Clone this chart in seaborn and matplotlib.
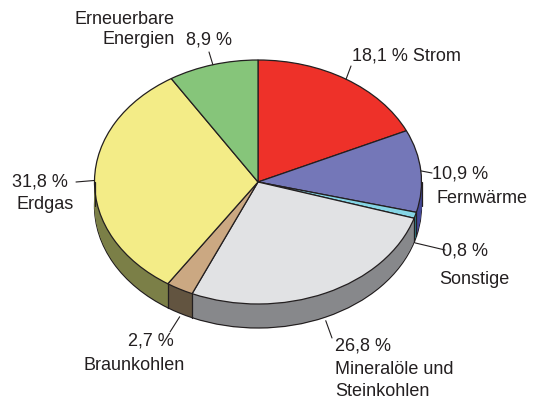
import numpy as np
import seaborn as sns
import matplotlib.pyplot as plt

# --- data (share in %, clockwise from 12 o'clock) ---
categories = ["Strom", "Fernwärme", "Sonstige", "Mineralöle und\nSteinkohlen",
              "Braunkohlen", "Erdgas", "Erneuerbare\nEnergien"]
shares = [18.1, 10.9, 0.8, 26.8, 2.7, 31.8, 8.9]
top_colors = ["#EE3129", "#7477B8", "#85D5E5", "#E1E2E4", "#CBA882", "#F3EC87", "#86C57A"]
side_colors = ["#8E1D18", "#444896", "#2F8590", "#87888B", "#625440", "#7B7F47", "#507648"]

sns.set_style("white")
plt.rcParams['font.family'] = ['Liberation Sans', 'DejaVu Sans']
INK = "#231F20"

fig = plt.figure(figsize=(5.4, 4.0), dpi=100)
ax = fig.add_axes([0, 0, 1, 1])

# pixel layout of the reference -> data units (pie radius 1)
CX, CY, RX, RY = 258, 182, 163.5, 122
def px(x, y):
    return ((x - CX) / RX, (CY - y) / RY)

depth = 24 / RY

# side of the "3D" pie: stacked darker pies
offsets = np.linspace(-depth, 0, 26)[:-1]
for i, off in enumerate(offsets):
    wp = dict(linewidth=0.9 if i == 0 else 0, edgecolor=INK)
    ax.pie(shares, colors=side_colors, startangle=90, counterclock=False,
           center=(0, off), radius=1, wedgeprops=wp)

# top face
ax.pie(shares, colors=top_colors, startangle=90, counterclock=False,
       center=(0, 0), radius=1, wedgeprops=dict(linewidth=0.9, edgecolor=INK))

# vertical edges on the visible front side
cum = np.concatenate([[0], np.cumsum(shares)])
bounds = np.deg2rad(90 - 3.6 * cum)
for b in bounds:
    if np.sin(b) < -0.05:
        ax.plot([np.cos(b)] * 2, [np.sin(b), np.sin(b) - depth], color=INK, lw=0.9)
for xe in (-1, 1):
    ax.plot([xe, xe], [0, -depth], color=INK, lw=0.9)

# labels
pct = [f"{v:.1f} %".replace(".", ",") for v in shares]
fs = 13
txt = dict(fontsize=fs, color=INK, va="center")

leader_end = [(351, 66), (432, 173), (445, 250), (332, 338), (170, 332), (76, 182), (209, 52)]
mids = np.deg2rad(90 - 3.6 * (cum[:-1] + np.array(shares) / 2))
for m, end in zip(mids, leader_end):
    sx, sy = np.cos(m), np.sin(m)
    if sy < -0.2:
        sy -= depth + 0.03
    ax.annotate("", xy=(sx, sy), xytext=px(*end),
                arrowprops=dict(arrowstyle="-", lw=0.8, color=INK, shrinkA=0, shrinkB=0))

ax.text(*px(352, 56), f"{pct[0]} {categories[0]}", ha="left", **txt)
ax.text(*px(432, 174), pct[1], ha="left", **txt)
ax.text(*px(436, 198), categories[1], ha="left", **txt)
ax.text(*px(442, 251), pct[2], ha="left", **txt)
ax.text(*px(439, 280), categories[2], ha="left", **txt)
ax.text(*px(335, 346), pct[3], ha="left", **txt)
for k, line in enumerate(categories[3].split("\n")):
    ax.text(*px(335, 369 + 23 * k), line, ha="left", **txt)
ax.text(*px(174, 341), pct[4], ha="right", **txt)
ax.text(*px(185, 366), categories[4], ha="right", **txt)
ax.text(*px(68, 182), pct[5], ha="right", **txt)
ax.text(*px(74, 204), categories[5], ha="right", **txt)
ax.text(*px(186, 40), pct[6], ha="left", **txt)
for k, line in enumerate(categories[6].split("\n")):
    ax.text(*px(175, 20 + 20 * k), line, ha="right", **txt)

ax.set_aspect("auto")
ax.set_xlim(px(0, 0)[0], px(540, 0)[0])
ax.set_ylim(px(0, 400)[1], px(0, 0)[1])
ax.axis("off")

fig.savefig("out.png", dpi=100, facecolor="white")
